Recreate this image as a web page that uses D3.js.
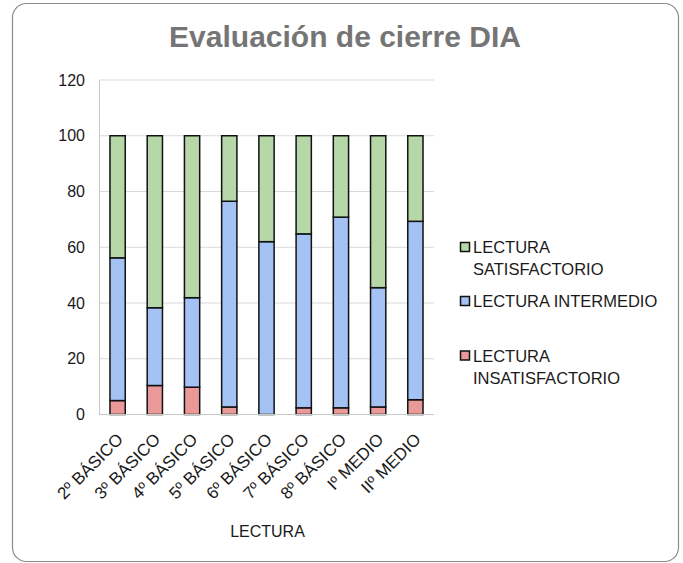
<!DOCTYPE html>
<html><head><meta charset="utf-8">
<script src="https://cdn.jsdelivr.net/npm/d3@7/dist/d3.min.js"></script>
<style>body{margin:0;background:#fff}svg{display:block}</style>
</head><body>
<script>
const categories = ["2º BÁSICO","3º BÁSICO","4º BÁSICO","5º BÁSICO","6º BÁSICO","7º BÁSICO","8º BÁSICO","Iº MEDIO","IIº MEDIO"];
const insatisfactorio = [5.0, 10.4, 9.8, 2.7, 0, 2.4, 2.4, 2.7, 5.3];
const intermedio = [51.2, 27.9, 32.1, 73.8, 62.0, 62.4, 68.4, 42.8, 64.0];
const satisfactorio = [43.8, 61.7, 58.1, 23.5, 38.0, 35.2, 29.2, 54.5, 30.7];
const yTicks = [0, 20, 40, 60, 80, 100, 120];
const seriesNames = ["LECTURA INSATISFACTORIO", "LECTURA INTERMEDIO", "LECTURA SATISFACTORIO"];
const seriesColors = ["#ea9999", "#a4c2f4", "#b6d7a8"];

const W = 683, H = 563;
const svg = d3.select("body").append("svg").attr("width", W).attr("height", H);
const font = "'Liberation Sans', Arial, sans-serif";

svg.append("rect").attr("x", 12.5).attr("y", 3.5).attr("width", 666).attr("height", 558)
  .attr("rx", 14).attr("fill", "#fff").attr("stroke", "#8a8a8a").attr("stroke-width", 1.2);

svg.append("text").attr("x", 345).attr("y", 47).attr("text-anchor", "middle")
  .attr("font-family", font).attr("font-weight", "bold").attr("font-size", 30)
  .attr("fill", "#757575").text("Evaluación de cierre DIA");

const x = d3.scaleBand().domain(categories).range([99, 434]).paddingInner(0.59).paddingOuter(0.295);
const y = d3.scaleLinear().domain([0, 120]).range([414.5, 80]);

// gridlines
svg.append("g").selectAll("line").data(yTicks.filter(t => t > 0)).join("line")
  .attr("x1", 99).attr("x2", 434).attr("y1", d => y(d)).attr("y2", d => y(d))
  .attr("stroke", "#d9d9d9").attr("stroke-width", 1);

// y axis
const yAxis = svg.append("g").attr("transform", "translate(99,0)")
  .call(d3.axisLeft(y).tickValues(yTicks).tickSize(0).tickPadding(14));
yAxis.select(".domain").attr("stroke", "#c8c8c8");
yAxis.selectAll("text").attr("font-family", font).attr("font-size", 16).attr("fill", "#1a1a1a");

// stacked bars
const rows = categories.map((c, i) => ({cat: c, a: insatisfactorio[i], b: intermedio[i], c: satisfactorio[i]}));
const stack = d3.stack().keys(["a", "b", "c"])(rows);
svg.append("g").selectAll("g").data(stack).join("g")
  .attr("fill", (d, i) => seriesColors[i])
  .selectAll("rect").data(d => d.filter(s => s[1] - s[0] > 0)).join("rect")
  .attr("x", d => x(d.data.cat)).attr("width", x.bandwidth())
  .attr("y", d => y(d[1])).attr("height", d => y(d[0]) - y(d[1]))
  .attr("stroke", "#111").attr("stroke-width", 1.5);

// x axis baseline
svg.append("line").attr("x1", 99).attr("x2", 434).attr("y1", y(0)).attr("y2", y(0))
  .attr("stroke", "#c8c8c8");

const xAxis = svg.append("g").attr("transform", `translate(0,${y(0)})`)
  .call(d3.axisBottom(x).tickSize(0).tickPadding(0));
xAxis.select(".domain").remove();
xAxis.selectAll("text").attr("font-family", font).attr("font-size", 17).attr("fill", "#1a1a1a")
  .attr("text-anchor", "end").attr("dy", 0).attr("y", 0)
  .attr("transform", "translate(6.5,26) rotate(-45)");

svg.append("text").attr("x", 267.5).attr("y", 537).attr("text-anchor", "middle")
  .attr("font-family", font).attr("font-size", 16).attr("fill", "#1a1a1a").text("LECTURA");

// legend
const legend = [
  {i: 2, lines: ["LECTURA", "SATISFACTORIO"], sy: 242},
  {i: 1, lines: ["LECTURA INTERMEDIO"], sy: 296},
  {i: 0, lines: ["LECTURA", "INSATISFACTORIO"], sy: 350.5}
];
const lg = svg.append("g");
legend.forEach(l => {
  lg.append("rect").attr("x", 460.5).attr("y", l.sy + 0.5).attr("width", 9).attr("height", 9)
    .attr("fill", seriesColors[l.i]).attr("stroke", "#111").attr("stroke-width", 1.5);
  const t = lg.append("text").attr("font-family", font).attr("font-size", 16.5).attr("fill", "#1a1a1a");
  l.lines.forEach((s, k) => t.append("tspan").attr("x", 473).attr("y", l.sy + 11 + k * 22).text(s));
});
</script>
</body></html>
